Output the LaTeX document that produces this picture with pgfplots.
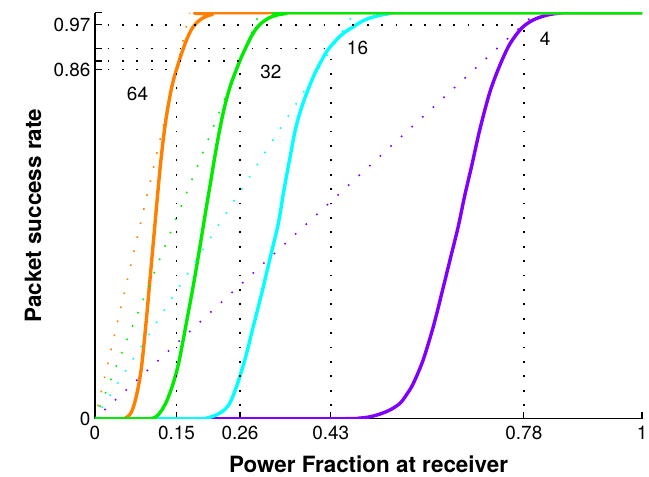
\documentclass[border=0pt]{standalone}
\usepackage{fontspec}
\setmainfont{TeX Gyre Heros}
\usepackage{pgfplots}
\pgfplotsset{compat=1.18}

\definecolor{corange}{RGB}{255,128,0}
\definecolor{cgreen}{RGB}{0,235,0}
\definecolor{ccyan}{RGB}{0,255,255}
\definecolor{cpurple}{RGB}{128,0,255}

\pgfplotsset{
  curve/.style={line width=3.4bp, smooth, tension=0.5, line join=round, line cap=round},
  bound/.style={line width=1.6bp, dash pattern=on 1.6bp off 12.8bp, dash phase=1.6bp},
  guide/.style={black, line width=1.8bp, dash pattern=on 1.8bp off 12.6bp, dash phase=1.8bp},
}

\begin{document}
\begin{tikzpicture}[x=1bp,y=1bp]
\path[use as bounding box] (-95,-58.3) rectangle (554,418.7);
\begin{axis}[
  at={(0,0)}, anchor=south west,
  scale only axis, width=547bp, height=406bp,
  xmin=0, xmax=1, ymin=0, ymax=1,
  axis lines=left,
  axis line style={-, line width=1.3bp},
  tick align=inside, major tick length=7bp,
  tick style={black, line width=1.1bp},
  xtick={0,0.149,0.265,0.431,0.784,1},
  xticklabels={0,0.15,0.26,0.43,0.78,1},
  ytick={0,0.86,0.881,0.912,0.97,1},
  yticklabels={0,0.86,{},{},0.97,{}},
  tick label style={font=\fontsize{19}{21}\selectfont},
  xticklabel style={yshift=-4bp},
  yticklabel style={xshift=-1bp},
  xlabel={Power Fraction at receiver},
  ylabel={Packet success rate},
  label style={font=\bfseries\fontsize{22.5}{24}\selectfont},
  xlabel style={at={(axis description cs:0.5,-0.132)}, anchor=base},
  ylabel style={at={(axis description cs:-0.0987,0.5)}, anchor=base},
]

% packet success curves
\addplot[curve, cpurple] coordinates {
 (0,0) (0.46,0) (0.48,0.001) (0.50,0.004) (0.52,0.011) (0.54,0.022)
 (0.5576,0.038) (0.57,0.06) (0.582,0.087) (0.600,0.145) (0.6185,0.227)
 (0.634,0.309) (0.649,0.391) (0.664,0.473) (0.676,0.55) (0.689,0.625)
 (0.704,0.715) (0.722,0.805) (0.740,0.870) (0.758,0.922) (0.780,0.962)
 (0.801,0.982) (0.826,0.994) (0.85,0.999) (0.87,1) (1,1)};
\addplot[curve, ccyan] coordinates {
 (0,0) (0.19,0) (0.205,0.002) (0.22,0.008) (0.235,0.02) (0.245,0.035)
 (0.255,0.065) (0.265,0.105) (0.275,0.15) (0.289,0.225) (0.305,0.31)
 (0.32,0.395) (0.335,0.48) (0.345,0.56) (0.356,0.64) (0.366,0.71)
 (0.376,0.76) (0.388,0.805) (0.400,0.845) (0.412,0.877) (0.424,0.905)
 (0.436,0.925) (0.448,0.942) (0.46,0.955) (0.472,0.965) (0.49,0.98)
 (0.51,0.99) (0.535,0.997) (0.57,1) (1,1)};
\addplot[curve, corange] coordinates {
 (0,0) (0.05,0) (0.056,0.002) (0.061,0.006) (0.066,0.015) (0.0705,0.03)
 (0.0755,0.055) (0.0805,0.088) (0.0853,0.13) (0.090,0.19) (0.095,0.26)
 (0.100,0.335) (0.105,0.41) (0.110,0.485) (0.115,0.56) (0.120,0.63)
 (0.125,0.69) (0.130,0.74) (0.135,0.78) (0.140,0.815) (0.145,0.842)
 (0.149,0.86) (0.155,0.886) (0.161,0.91) (0.168,0.935) (0.177,0.96)
 (0.188,0.978) (0.200,0.989) (0.215,0.996) (0.235,1) (1,1)};
\addplot[curve, cgreen] coordinates {
 (0,0) (0.095,0) (0.105,0.001) (0.113,0.006) (0.122,0.021) (0.131,0.043)
 (0.140,0.075) (0.148,0.11) (0.155,0.150) (0.1676,0.240) (0.180,0.33)
 (0.192,0.425) (0.202,0.508) (0.211,0.58) (0.219,0.645) (0.227,0.705)
 (0.2346,0.755) (0.242,0.795) (0.25,0.83) (0.265,0.882) (0.276,0.915)
 (0.2864,0.943) (0.2955,0.962) (0.3047,0.975) (0.318,0.987) (0.332,0.994)
 (0.35,0.998) (0.37,1) (1,1)};

% linear bounds
\addplot[bound, corange] coordinates {(0,0) (0.173,1)};
\addplot[bound, cgreen] coordinates {(0,0) (0.301,1)};
\addplot[bound, ccyan] coordinates {(0,0) (0.474,1)};
\addplot[bound, cpurple] coordinates {(0,0) (0.806,1)};

% operating points
\addplot[guide] coordinates {(0,0.86) (0.149,0.86)};
\addplot[guide] coordinates {(0.149,0) (0.149,0.86)};
\addplot[guide] coordinates {(0,0.881) (0.265,0.881)};
\addplot[guide] coordinates {(0.265,0) (0.265,0.881)};
\addplot[guide] coordinates {(0,0.912) (0.431,0.912)};
\addplot[guide] coordinates {(0.431,0) (0.431,0.912)};
\addplot[guide] coordinates {(0,0.97) (0.784,0.97)};
\addplot[guide] coordinates {(0.784,0) (0.784,0.97)};

% curve labels
\node[font=\fontsize{19}{21}\selectfont] at (axis cs:0.0777,0.801) {64};
\node[font=\fontsize{19}{21}\selectfont] at (axis cs:0.3217,0.853) {32};
\node[font=\fontsize{19}{21}\selectfont] at (axis cs:0.4799,0.914) {16};
\node[font=\fontsize{19}{21}\selectfont] at (axis cs:0.8227,0.935) {4};
\end{axis}
\end{tikzpicture}
\end{document}
